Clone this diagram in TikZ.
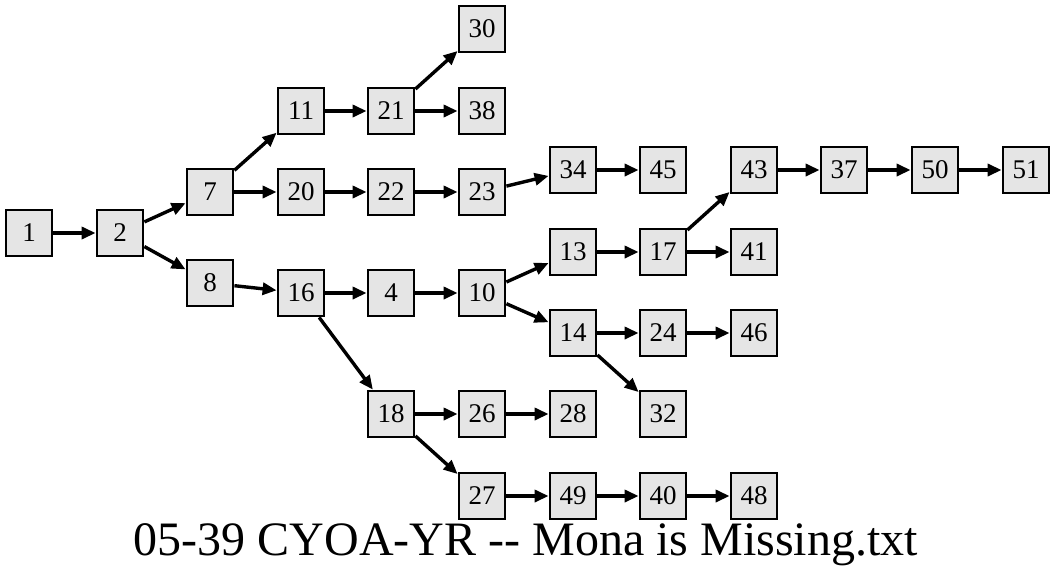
\documentclass[tikz,border=0pt]{standalone}
\usepackage{fontspec}
\setmainfont{Liberation Serif}
\usetikzlibrary{arrows.meta}

\definecolor{boxgray}{HTML}{E5E5E5}
\def\lw{2.8pt}

\begin{document}
\begin{tikzpicture}[x=1pt, y=-1pt,
	box/.style={rectangle,draw,fill=boxgray,line width=\lw,inner sep=0,minimum size=46pt,font=\fontsize{27}{27}\selectfont},
	edge/.style={-{Triangle[length=14pt,width=12pt]},line width=3.4pt}]
		
		\useasboundingbox (0,0) rectangle (1056,584);
		
		\node (n1) at (29,233) [box]  {1};
		\node (n2) at (120,233) [box]  {2};
		\node (n7) at (210,192) [box]  {7};
		\node (n8) at (210,283) [box]  {8};
		\node (n11) at (301,111) [box]  {11};
		\node (n20) at (301,192) [box]  {20};
		\node (n16) at (301,293) [box]  {16};
		\node (n21) at (391,111) [box]  {21};
		\node (n22) at (391,192) [box]  {22};
		\node (n4) at (391,293) [box]  {4};
		\node (n18) at (391,414) [box]  {18};
		\node (n30) at (482,29) [box]  {30};
		\node (n38) at (482,111) [box]  {38};
		\node (n23) at (482,192) [box]  {23};
		\node (n10) at (482,293) [box]  {10};
		\node (n26) at (482,414) [box]  {26};
		\node (n27) at (482,496) [box]  {27};
		\node (n34) at (573,170) [box]  {34};
		\node (n13) at (573,252) [box]  {13};
		\node (n14) at (573,333) [box]  {14};
		\node (n28) at (573,414) [box]  {28};
		\node (n49) at (573,496) [box]  {49};
		\node (n45) at (663,170) [box]  {45};
		\node (n17) at (663,252) [box]  {17};
		\node (n24) at (663,333) [box]  {24};
		\node (n32) at (663,414) [box]  {32};
		\node (n40) at (663,496) [box]  {40};
		\node (n43) at (754,170) [box]  {43};
		\node (n41) at (754,252) [box]  {41};
		\node (n46) at (754,333) [box]  {46};
		\node (n48) at (754,496) [box]  {48};
		\node (n37) at (844,170) [box]  {37};
		\node (n50) at (935,170) [box]  {50};
		\node (n51) at (1026,170) [box]  {51};
		
		\draw[edge] (n1) to (n2);
		\draw[edge] (n2) to (n7);
		\draw[edge] (n2) to (n8);
		\draw[edge] (n7) to (n11);
		\draw[edge] (n7) to (n20);
		\draw[edge] (n11) to (n21);
		\draw[edge] (n21) to (n30);
		\draw[edge] (n21) to (n38);
		\draw[edge] (n20) to (n22);
		\draw[edge] (n22) to (n23);
		\draw[edge] (n23) to (n34);
		\draw[edge] (n34) to (n45);
		\draw[edge] (n8) to (n16);
		\draw[edge] (n16) to (n4);
		\draw[edge] (n16) to (n18);
		\draw[edge] (n4) to (n10);
		\draw[edge] (n10) to (n13);
		\draw[edge] (n10) to (n14);
		\draw[edge] (n13) to (n17);
		\draw[edge] (n17) to (n43);
		\draw[edge] (n17) to (n41);
		\draw[edge] (n43) to (n37);
		\draw[edge] (n37) to (n50);
		\draw[edge] (n50) to (n51);
		\draw[edge] (n14) to (n24);
		\draw[edge] (n14) to (n32);
		\draw[edge] (n24) to (n46);
		\draw[edge] (n18) to (n26);
		\draw[edge] (n18) to (n27);
		\draw[edge] (n26) to (n28);
		\draw[edge] (n27) to (n49);
		\draw[edge] (n49) to (n40);
		\draw[edge] (n40) to (n48);
		
		\node (title) at (526,555) [anchor=base,inner sep=0,font=\fontsize{48}{48}\selectfont]  {05-39 CYOA-YR -{}- Mona is Missing.txt};

	\end{tikzpicture}
\end{document}
